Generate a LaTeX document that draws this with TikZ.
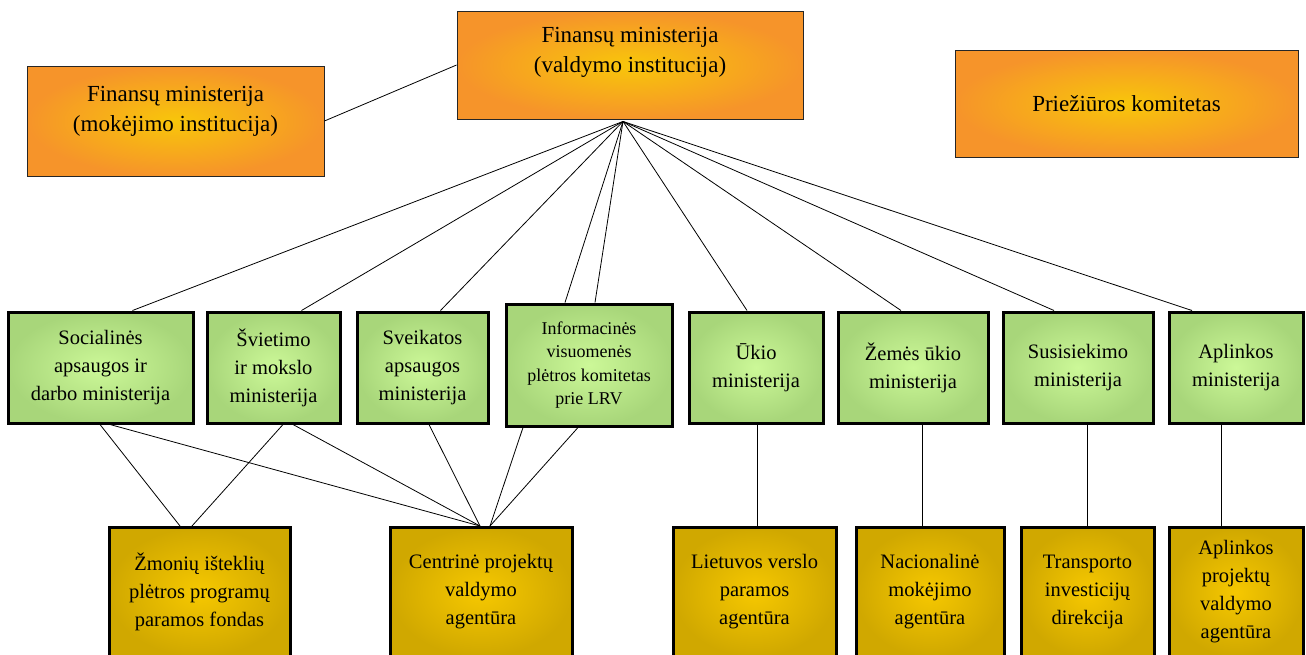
\documentclass[tikz,border=0pt]{standalone}
\usepackage{fontspec}
\setmainfont{Liberation Serif}
\definecolor{orgout}{RGB}{246,148,42}
\definecolor{orgin}{RGB}{248,198,10}
\definecolor{grnout}{RGB}{168,214,122}
\definecolor{grnin}{RGB}{204,248,152}
\definecolor{gldout}{RGB}{208,168,0}
\definecolor{gldin}{RGB}{246,200,0}
\begin{document}
\begin{tikzpicture}[x=1pt,y=-1pt,
                        topbox/.style={draw=black!85,line width=0.9pt,inner color=orgin,outer color=orgout,
                            align=center,inner sep=0pt,font=\fontsize{23}{30}\selectfont},
                        minbox/.style={draw=black,line width=3pt,inner color=grnin,outer color=grnout,
                            align=center,inner sep=0pt,minimum height=111pt,font=\fontsize{20.5}{28}\selectfont},
                        agbox/.style={draw=black,line width=3pt,inner color=gldin,outer color=gldout,
                            align=center,inner sep=0pt,minimum height=129pt,font=\fontsize{20.5}{28}\selectfont},
                        link/.style={line width=0.8pt}]
                        \useasboundingbox[fill=white] (0,0) rectangle (1306,654);
                        \node[topbox,minimum width=346pt,minimum height=108pt,text depth=31pt] (valdymo) at (630,65)
                            {Finansų ministerija\\(valdymo institucija)};
                        \node[topbox,minimum width=297pt,minimum height=110pt,text depth=25pt] (mokejimo) at (175.5,121)
                            {Finansų ministerija\\(mokėjimo institucija)};
                        \node[topbox,minimum width=343pt,minimum height=107pt] (prieziuros) at (1126.5,103.5)
                            {Priežiūros komitetas};
                        \coordinate (hub) at ([xshift=-7pt,yshift=-2pt]valdymo.south);
                        \node[minbox,minimum width=185pt] (socialines) at (100.5,367.5)
                            {Socialinės\\apsaugos ir\\darbo ministerija};
                        \node[minbox,minimum width=133pt] (svietimo) at (273.5,367.5)
                            {Švietimo\\ir mokslo\\ministerija};
                        \node[minbox,minimum width=131pt] (sveikatos) at (422.5,367.5)
                            {Sveikatos\\apsaugos\\ministerija};
                        \node[minbox,minimum width=166pt,minimum height=122pt,font=\fontsize{18}{23.5}\selectfont]
                            (informacines) at (589,365)
                            {Informacinės\\visuomenės\\plėtros komitetas\\prie LRV};
                        \node[minbox,minimum width=134pt] (ukio) at (756,367.5) {Ūkio\\ministerija};
                        \node[minbox,minimum width=150pt] (zemes) at (913,367.5) {Žemės ūkio\\ministerija};
                        \node[minbox,minimum width=150pt] (susisiekimo) at (1078,367.5) {Susisiekimo\\ministerija};
                        \node[minbox,minimum width=134pt] (aplinkos) at (1236,367.5) {Aplinkos\\ministerija};
                        \node[agbox,minimum width=181pt] (zmoniu) at (199.5,592)
                            {Žmonių išteklių\\plėtros programų\\paramos fondas};
                        \node[agbox,minimum width=182pt] (centrine) at (481,592)
                            {Centrinė projektų\\valdymo\\agentūra};
                        \node[agbox,minimum width=163pt] (lietuvos) at (754.5,592)
                            {Lietuvos verslo\\paramos\\agentūra};
                        \node[agbox,minimum width=148pt] (nacionaline) at (930,592)
                            {Nacionalinė\\mokėjimo\\agentūra};
                        \node[agbox,minimum width=133pt] (transporto) at (1087.5,592)
                            {Transporto\\investicijų\\direkcija};
                        \node[agbox,minimum width=134pt] (aplinkosproj) at (1236,592)
                            {Aplinkos\\projektų\\valdymo\\agentūra};
                        \draw[link] (mokejimo.east) -- (valdymo.west);
                        \draw[link] (hub) -- ([xshift=32pt]socialines.north);
                        \draw[link] (hub) -- ([xshift=28pt]svietimo.north);
                        \draw[link] (hub) -- ([xshift=18pt]sveikatos.north);
                        \draw[link] (hub) -- ([xshift=-24pt]informacines.north);
                        \draw[link] (hub) -- ([xshift=6pt]informacines.north);
                        \draw[link] (hub) -- ([xshift=-9pt]ukio.north);
                        \draw[link] (hub) -- ([xshift=-12pt]zemes.north);
                        \draw[link] (hub) -- ([xshift=-24pt]susisiekimo.north);
                        \draw[link] (hub) -- ([xshift=-44pt]aplinkos.north);
                        \draw[link] ([xshift=-0.5pt]socialines.south) -- ([xshift=-19.5pt]zmoniu.north);
                        \draw[link] ([xshift=9.5pt]socialines.south) -- ([xshift=-1pt]centrine.north);
                        \draw[link] ([xshift=9.5pt]svietimo.south) -- ([xshift=-7.5pt]zmoniu.north);
                        \draw[link] ([xshift=19.5pt]svietimo.south) -- ([xshift=-1pt]centrine.north);
                        \draw[link] ([xshift=6.5pt]sveikatos.south) -- ([xshift=-1pt]centrine.north);
                        \draw[link] ([xshift=-66pt]informacines.south) -- ([xshift=9pt]centrine.north);
                        \draw[link] ([xshift=-11pt]informacines.south) -- ([xshift=9pt]centrine.north);
                        \draw[link] ([xshift=1pt]ukio.south) -- ([xshift=1pt]ukio.south |- lietuvos.north);
                        \draw[link] ([xshift=9pt]zemes.south) -- ([xshift=9pt]zemes.south |- nacionaline.north);
                        \draw[link] ([xshift=9pt]susisiekimo.south) -- ([xshift=9pt]susisiekimo.south |- transporto.north);
                        \draw[link] ([xshift=-15pt]aplinkos.south) -- ([xshift=-15pt]aplinkos.south |- aplinkosproj.north);
                    \end{tikzpicture}
\end{document}
